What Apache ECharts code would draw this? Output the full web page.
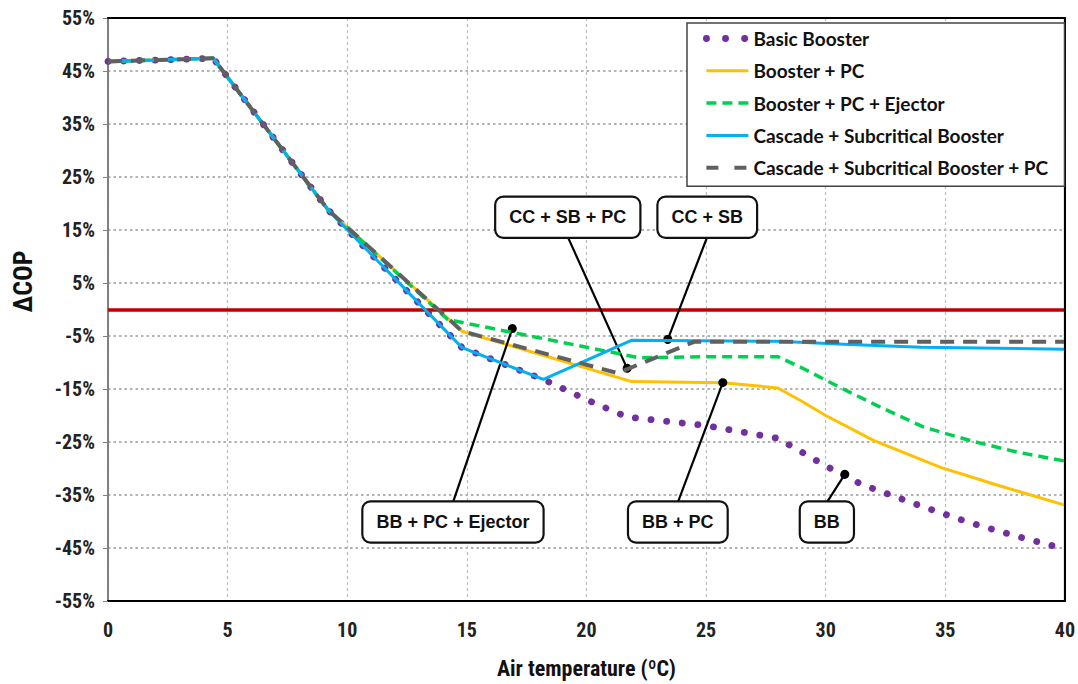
<!DOCTYPE html>
<html>
<head>
<meta charset="utf-8">
<script src="https://cdn.jsdelivr.net/npm/echarts@6/dist/echarts.min.js"></script>
<style>
html,body{margin:0;padding:0;background:#fff;}
#chart{width:1078px;height:684px;}
</style>
</head>
<body>
<div id="chart"></div>
<script>
// ---- data (x = air temperature °C, y = ΔCOP %) ----
const seriesNames = ['Basic Booster','Booster + PC','Booster + PC + Ejector','Cascade + Subcritical Booster','Cascade + Subcritical Booster + PC'];
const basicBooster = [[0,46.8],[4.4,47.4],[9.2,18.8],[14.8,-7.2],[18.2,-13.2],[20,-17],[21.7,-20.3],[25,-21.9],[28,-24.3],[30,-29.5],[31.5,-33],[34,-37.1],[36,-40.2],[38,-42.8],[40,-45.2]];
const boosterPC = [[0,46.8],[4.4,47.4],[9.2,18.8],[14.8,-4.1],[21.9,-13.6],[25.7,-13.8],[28,-14.8],[29,-17.3],[30,-20],[32,-24.7],[34.8,-29.8],[37.3,-33.3],[40,-36.9]];
const boosterPCEjector = [[0,46.8],[4.4,47.4],[9.2,18.8],[14.2,-1.9],[22.2,-9.1],[25,-8.9],[28,-8.9],[29,-11],[30.6,-14.7],[32,-17.8],[34.1,-22.2],[36.1,-24.8],[38,-26.9],[40,-28.6]];
const cascadeSB = [[0,46.8],[4.4,47.4],[9.2,18.8],[14.8,-7.2],[18.2,-13.2],[21.9,-5.8],[28,-6.0],[31,-6.6],[34,-7.1],[40,-7.5]];
const cascadeSBPC = [[0,46.8],[4.4,47.4],[9.2,18.8],[14.8,-4.1],[21.3,-12.0],[24.5,-6.1],[40,-6.1]];
const xTicks = {min:0, max:40, interval:5};
const yTicks = {min:-55, max:55, interval:10};
// callouts: label text, anchor point on curve, label centre
const calloutTexts = ['CC + SB + PC','CC + SB','BB + PC + Ejector','BB + PC','BB'];
const calloutAnchors = [[21.7,-11.1],[23.4,-5.65],[16.9,-3.6],[25.7,-13.8],[30.8,-31.1]];
const calloutLabels = [[19.22,17.4],[25.05,17.4],[14.42,-40.1],[23.82,-40.1],[30.05,-40.1]];
const calloutHalfHeight = 3.7; // half box height in axis units, where leader meets box edge

const narrow = "'Liberation Sans Narrow','Arial Narrow','Roboto Condensed','Liberation Sans',sans-serif";
const colors = ['#7030a0','#ffc000','#00d050','#00b0f0','#606060'];
const styles = [
  {width:6.8, type:[0.1,15.6], cap:'round'},
  {width:3, type:'solid'},
  {width:3.5, type:[10,6]},
  {width:3, type:'solid'},
  {width:4, type:[14,9]}
];
const dataSets = [basicBooster, boosterPC, boosterPCEjector, cascadeSB, cascadeSBPC];

const chart = echarts.init(document.getElementById('chart'), null, {renderer:'svg'});

const lineSeries = dataSets.map((d,i)=>({
  name: seriesNames[i],
  type:'line',
  data:d,
  symbol:'none',
  smooth:false,
  z: 3+i,
  lineStyle:Object.assign({color:colors[i]}, styles[i]),
  itemStyle:{color:colors[i]},
  animation:false
}));

const legendIconStyles = [
  {width:6.8, type:[0.1,19], cap:'round'},
  {width:3, type:'solid'},
  {width:3.5, type:[10,6]},
  {width:3, type:'solid'},
  {width:4, type:[12,16]}
];

const leaderEnds = calloutAnchors.map((a,i)=>{
  const l = calloutLabels[i];
  return [l[0], a[1] > l[1] ? l[1] + calloutHalfHeight : l[1] - calloutHalfHeight];
});

const frameAxis = {show:true, onZero:false, lineStyle:{color:'#000', width:2}};

const option = {
  animation:false,
  backgroundColor:'#fff',
  grid:{left:108, right:13, top:18, bottom:82, show:true, borderColor:'#000', borderWidth:2},
  legend:{
    orient:'vertical',
    left:687, top:23,
    padding:[6,16,9,16],
    itemWidth:42, itemHeight:14, itemGap:13.3,
    backgroundColor:'#fff',
    borderColor:'#444', borderWidth:1.5,
    itemStyle:{opacity:0},
    textStyle:{fontFamily:"Lato,'Open Sans',sans-serif", fontWeight:'bold', fontSize:19, lineHeight:16, color:'#111'},
    data: seriesNames.map((n,i)=>({name:n, itemStyle:{opacity:0}, lineStyle:Object.assign({color:colors[i]}, legendIconStyles[i])})),
    z:20
  },
  xAxis:[{
    type:'value', min:xTicks.min, max:xTicks.max, interval:xTicks.interval,
    name:'Air temperature (ºC)', nameLocation:'middle', nameGap:56,
    nameTextStyle:{fontFamily:narrow, fontWeight:'bold', fontSize:22, color:'#111'},
    axisLine:{show:true, onZero:false, lineStyle:{color:'#000', width:2}},
    axisTick:{show:false},
    axisLabel:{fontFamily:narrow, fontWeight:'bold', fontSize:20, color:'#222', margin:19},
    splitLine:{show:true, lineStyle:{color:'#bdbdbd', width:1.2, type:[3,3]}}
  },{
    type:'value', position:'top', min:xTicks.min, max:xTicks.max, interval:xTicks.interval,
    axisLine:frameAxis, axisTick:{show:false}, axisLabel:{show:false}, splitLine:{show:false}, z:10
  }],
  yAxis:[{
    type:'value', min:yTicks.min, max:yTicks.max, interval:yTicks.interval,
    name:'ΔCOP', nameLocation:'middle', nameGap:72,
    nameTextStyle:{fontFamily:narrow, fontWeight:'bold', fontSize:26, color:'#111', padding:[0,0,0,56]},
    axisLine:{show:true, onZero:false, lineStyle:{color:'#808080', width:2}},
    axisTick:{show:true, length:5, lineStyle:{color:'#808080'}},
    axisLabel:{fontFamily:narrow, fontWeight:'bold', fontSize:20, color:'#222', margin:13, formatter:v=>v+'%'},
    splitLine:{show:true, lineStyle:{color:'#999', width:1.5, type:[2.5,3]}}
  },{
    type:'value', position:'right', min:yTicks.min, max:yTicks.max, interval:yTicks.interval,
    axisLine:frameAxis, axisTick:{show:false}, axisLabel:{show:false}, splitLine:{show:false}, z:10
  }],
  series:[
    {
      name:'zero', type:'line', data:[], z:2, silent:true,
      markLine:{silent:true, symbol:'none', animation:false, label:{show:false},
        lineStyle:{color:'#c00000', width:3.5, type:'solid'},
        data:[{yAxis:0}]}
    },
    ...lineSeries,
    {
      name:'leaders', type:'line', data:[], z:12, silent:true,
      markLine:{silent:true, animation:false, symbol:['circle','none'], symbolSize:9,
        label:{show:false},
        lineStyle:{color:'#000', width:2.2, type:'solid'},
        itemStyle:{color:'#000'},
        data: calloutAnchors.map((a,i)=>[{coord:a},{coord:leaderEnds[i]}])
      }
    },
    {
      name:'callouts', type:'scatter', z:15, symbolSize:1, silent:true,
      itemStyle:{color:'rgba(0,0,0,0)', opacity:1},
      data: calloutLabels.map((p,i)=>[p[0],p[1],calloutTexts[i]]),
      label:{show:true, position:'inside', formatter:p=>p.value[2],
        fontFamily:"'Liberation Sans',Arial,sans-serif", fontWeight:'bold', fontSize:18, color:'#111',
        backgroundColor:'#fff', borderColor:'#111', borderWidth:2.2, borderRadius:7,
        padding:[11,13,10,13]}
    }
  ]
};
chart.setOption(option);
</script>
</body>
</html>
